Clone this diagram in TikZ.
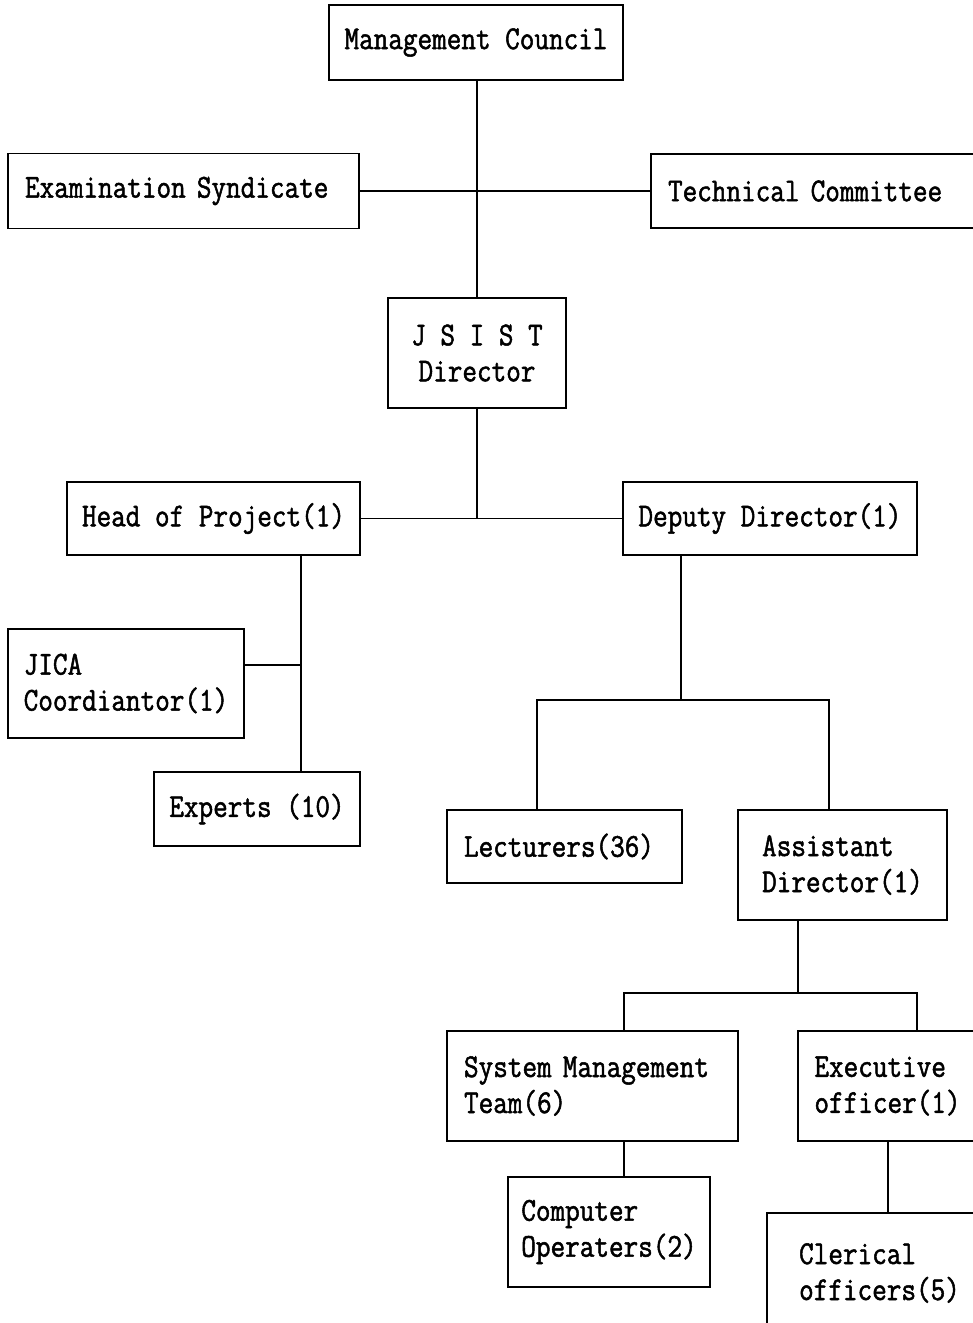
\documentclass[tikz,border=0pt]{standalone}
\usepackage{fontspec}
\newfontfamily\orgfont[FakeStretch=0.85,FakeBold=1.5]{Latin Modern Mono}
\usepackage{tikz}
\usetikzlibrary{calc}

\tikzset{
  orgbox/.style={draw,line width=1.1pt,align=left,inner ysep=0pt,
    font=\orgfont\fontsize{19}{20.5}\selectfont},
  orgline/.style={line width=1.1pt}
}

\begin{document}
\begin{tikzpicture}[x=0.02cm,y=-0.02cm]

    % page frame, same size as the scanned chart
    \useasboundingbox (0,0) rectangle (973,1323);
    \clip (0,0) rectangle (973,1323);

    % top level
    \node[orgbox,minimum width=5.88cm,minimum height=1.5cm] (mc) at (476,42.5) {Management Council};
    \node[orgbox,text width=6.34cm,inner xsep=0.34cm,minimum height=1.5cm] (exam) at (183.5,191) {Examination Syndicate};
    \node[orgbox,text width=6.58cm,inner xsep=0.34cm,minimum height=1.48cm] (tech) at (832.5,191) {Technical Committee};
    \node[orgbox,align=center,minimum width=3.56cm,minimum height=2.2cm] (jsist) at (477,353) {J S I S T\\Director};

    % second level
    \node[orgbox,minimum width=5.86cm,minimum height=1.46cm] (head) at (213.5,518.5) {Head of Project(1)};
    \node[orgbox,minimum width=5.88cm,minimum height=1.46cm] (deputy) at (770,518.5) {Deputy Director(1)};
    \node[orgbox,minimum width=4.72cm,minimum height=2.18cm] (jica) at (126,683.5) {JICA\\Coordiantor(1)};
    \node[orgbox,minimum width=4.12cm,minimum height=1.48cm] (experts) at (257,809) {Experts (10)};
    \node[orgbox,text width=4.02cm,inner xsep=0.34cm,minimum height=1.46cm] (lect) at (564.5,846.5) {Lecturers(36)};
    \node[orgbox,minimum width=4.18cm,minimum height=2.2cm] (asst) at (842.5,865) {Assistant\\Director(1)};

    % bottom level
    \node[orgbox,text width=5.14cm,inner xsep=0.34cm,minimum height=2.2cm] (sysmgmt) at (592.5,1086) {System Management\\Team(6)};
    \node[orgbox,minimum width=3.58cm,minimum height=2.2cm] (exec) at (887.5,1086) {Executive\\officer(1)};
    \node[orgbox,minimum width=4.04cm,minimum height=2.2cm] (computer) at (609,1232) {Computer\\Operaters(2)};
    \node[orgbox,minimum width=4.5cm,minimum height=2.4cm] (clerical) at (879.5,1273) {Clerical\\officers(5)};

    % branch points
    \coordinate (hpline) at (301,665);
    \coordinate (dd) at (681,700);
    \coordinate (ddl) at (537,700);
    \coordinate (ddr) at (829,700);
    \coordinate (ad) at (798,993);
    \coordinate (adl) at (624,993);
    \coordinate (adr) at (917,993);

    % council, committees and director
    \draw[orgline] (mc.south -| jsist.north) -- (jsist.north);
    \draw[orgline] (exam.east) -- (tech.west);
    \draw[orgline] (jsist.south) -- (jsist.south |- head.east);
    \draw[orgline] (head.east) -- (deputy.west);

    % project side
    \draw[orgline] (head.south -| hpline) -- (experts.north -| hpline);
    \draw[orgline] (jica.east |- hpline) -- (hpline);

    % deputy director side
    \draw[orgline] (deputy.south -| dd) -- (dd);
    \draw[orgline] (lect.north -| ddl) -- (ddl) -- (ddr) -- (asst.north -| ddr);
    \draw[orgline] (asst.south -| ad) -- (ad);
    \draw[orgline] (sysmgmt.north -| adl) -- (adl) -- (adr) -- (exec.north -| adr);
    \draw[orgline] (sysmgmt.south -| adl) -- (computer.north -| adl);
    \draw[orgline] (exec.south -| 888,0) -- (clerical.north -| 888,0);

\end{tikzpicture}
\end{document}
